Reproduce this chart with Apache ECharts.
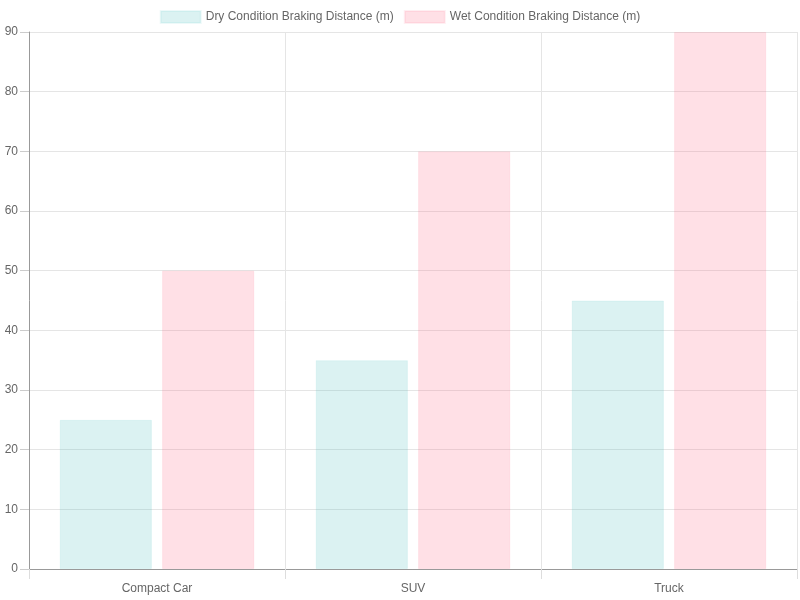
<!DOCTYPE html>
<html>
<head>
<meta charset="utf-8">
<script src="https://cdn.jsdelivr.net/npm/echarts@6/dist/echarts.min.js"></script>
<style>
  html, body { margin: 0; padding: 0; background: #fff; }
  #chart { width: 800px; height: 600px; }
</style>
</head>
<body>
<div id="chart"></div>
<script>
// 数据
var vehicles = ['Compact Car', 'SUV', 'Truck'];
var dryDistance = [25, 35, 45];
var wetDistance = [50, 70, 90];
var seriesNames = ['Dry Condition Braking Distance (m)', 'Wet Condition Braking Distance (m)'];

var chart = echarts.init(document.getElementById('chart'));
var option = {
    animation: false,
    textStyle: { fontFamily: 'Liberation Sans, Arial, sans-serif' },
    legend: {
        data: seriesNames,
        top: 5,
        left: 'center',
        icon: 'rect',
        itemWidth: 40,
        itemHeight: 12,
        itemGap: 10,
        textStyle: { color: '#666', fontSize: 12 }
    },
    grid: {
        left: 29,
        right: 3,
        top: 32,
        bottom: 31,
        containLabel: false
    },
    xAxis: {
        type: 'category',
        data: vehicles,
        boundaryGap: true,
        axisLine: { show: true, lineStyle: { color: '#999', width: 1 } },
        axisTick: { show: true, length: 10, lineStyle: { color: '#ddd' } },
        axisLabel: { color: '#666', fontSize: 12, margin: 14 },
        splitLine: { show: true, lineStyle: { color: '#e5e5e5' } }
    },
    yAxis: {
        type: 'value',
        min: 0,
        max: 90,
        interval: 10,
        axisLine: { show: true, lineStyle: { color: '#999', width: 1 } },
        axisTick: { show: true, length: 9, lineStyle: { color: '#ccc' } },
        axisLabel: { color: '#666', fontSize: 12, margin: 11 },
        splitLine: { show: true, lineStyle: { color: '#e5e5e5' } }
    },
    series: [{
        name: seriesNames[0],
        type: 'bar',
        data: dryDistance,
        barCategoryGap: '24%',
        barGap: '11%',
        itemStyle: {
            color: 'rgba(75,192,192,0.2)',
            borderColor: 'rgba(75,192,192,0.1)',
            borderWidth: 1
        }
    }, {
        name: seriesNames[1],
        type: 'bar',
        data: wetDistance,
        barCategoryGap: '24%',
        barGap: '11%',
        itemStyle: {
            color: 'rgba(255,99,132,0.2)',
            borderColor: 'rgba(255,99,132,0.1)',
            borderWidth: 1
        }
    }]
};
chart.setOption(option);
window.addEventListener('resize', function () {
    chart.resize();
});
</script>
</body>
</html>
